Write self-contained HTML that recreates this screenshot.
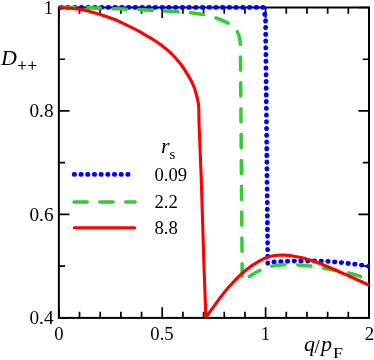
<!DOCTYPE html>
<html><head><meta charset="utf-8"><title>chart</title>
<style>
html,body{margin:0;padding:0;background:#fff;}
svg{display:block;will-change:transform;}
text{font-family:"Liberation Serif",serif;fill:#000;}
.t{font-size:18.7px;}
.i{font-style:italic;font-size:22px;}
.s{font-size:15px;}
.p{font-size:16.2px;stroke:#000;stroke-width:0.25px;}
</style></head><body>
<svg width="374" height="360" viewBox="0 0 374 360">
<rect width="374" height="360" fill="#fff"/>
<clipPath id="c"><rect x="58.85" y="0" width="311.15" height="318.10"/></clipPath>
<path d="M58.85 317.9v-10.6M58.85 7.5v10.6M79.53 317.9v-6.2M79.53 7.5v6.2M100.20 317.9v-6.2M100.20 7.5v6.2M120.88 317.9v-6.2M120.88 7.5v6.2M141.56 317.9v-6.2M141.56 7.5v6.2M162.23 317.9v-10.6M162.23 7.5v10.6M182.91 317.9v-6.2M182.91 7.5v6.2M203.59 317.9v-6.2M203.59 7.5v6.2M224.26 317.9v-6.2M224.26 7.5v6.2M244.94 317.9v-6.2M244.94 7.5v6.2M265.62 317.9v-10.6M265.62 7.5v10.6M286.29 317.9v-6.2M286.29 7.5v6.2M306.97 317.9v-6.2M306.97 7.5v6.2M327.65 317.9v-6.2M327.65 7.5v6.2M348.32 317.9v-6.2M348.32 7.5v6.2M369.00 317.9v-10.6M369.00 7.5v10.6M58.85 7.50h10.6M369.0 7.50h-10.6M58.85 59.23h6.2M369.0 59.23h-6.2M58.85 110.97h10.6M369.0 110.97h-10.6M58.85 162.70h6.2M369.0 162.70h-6.2M58.85 214.43h10.6M369.0 214.43h-10.6M58.85 266.17h6.2M369.0 266.17h-6.2M58.85 317.90h10.6M369.0 317.90h-10.6" stroke="#000" stroke-width="1.7" fill="none"/>
<rect x="58.85" y="7.5" width="310.15" height="310.40" fill="none" stroke="#000" stroke-width="2.0"/>
<g clip-path="url(#c)">
<g fill="#0000ff"><ellipse cx="263.10" cy="7.40" rx="2.55" ry="2.4"/><ellipse cx="256.38" cy="7.40" rx="2.55" ry="2.4"/><ellipse cx="249.65" cy="7.40" rx="2.55" ry="2.4"/><ellipse cx="242.93" cy="7.40" rx="2.55" ry="2.4"/><ellipse cx="236.20" cy="7.40" rx="2.55" ry="2.4"/><ellipse cx="229.48" cy="7.40" rx="2.55" ry="2.4"/><ellipse cx="222.75" cy="7.40" rx="2.55" ry="2.4"/><ellipse cx="216.03" cy="7.40" rx="2.55" ry="2.4"/><ellipse cx="209.30" cy="7.40" rx="2.55" ry="2.4"/><ellipse cx="202.58" cy="7.40" rx="2.55" ry="2.4"/><ellipse cx="195.85" cy="7.40" rx="2.55" ry="2.4"/><ellipse cx="189.13" cy="7.40" rx="2.55" ry="2.4"/><ellipse cx="182.40" cy="7.40" rx="2.55" ry="2.4"/><ellipse cx="175.68" cy="7.40" rx="2.55" ry="2.4"/><ellipse cx="168.95" cy="7.40" rx="2.55" ry="2.4"/><ellipse cx="162.23" cy="7.40" rx="2.55" ry="2.4"/><ellipse cx="155.50" cy="7.40" rx="2.55" ry="2.4"/><ellipse cx="148.78" cy="7.40" rx="2.55" ry="2.4"/><ellipse cx="142.05" cy="7.40" rx="2.55" ry="2.4"/><ellipse cx="135.33" cy="7.40" rx="2.55" ry="2.4"/><ellipse cx="128.60" cy="7.40" rx="2.55" ry="2.4"/><ellipse cx="121.88" cy="7.40" rx="2.55" ry="2.4"/><ellipse cx="115.15" cy="7.40" rx="2.55" ry="2.4"/><ellipse cx="108.43" cy="7.40" rx="2.55" ry="2.4"/><ellipse cx="101.70" cy="7.40" rx="2.55" ry="2.4"/><ellipse cx="94.98" cy="7.40" rx="2.55" ry="2.4"/><ellipse cx="88.25" cy="7.40" rx="2.55" ry="2.4"/><ellipse cx="81.53" cy="7.40" rx="2.55" ry="2.4"/><ellipse cx="74.80" cy="7.40" rx="2.55" ry="2.4"/><ellipse cx="68.08" cy="7.40" rx="2.55" ry="2.4"/><ellipse cx="61.35" cy="7.40" rx="2.55" ry="2.4"/><ellipse cx="264.80" cy="14.20" rx="2.4" ry="2.55"/><ellipse cx="265.60" cy="20.90" rx="2.4" ry="2.55"/><ellipse cx="265.66" cy="27.62" rx="2.4" ry="2.55"/><ellipse cx="265.72" cy="34.35" rx="2.4" ry="2.55"/><ellipse cx="265.78" cy="41.07" rx="2.4" ry="2.55"/><ellipse cx="265.84" cy="47.80" rx="2.4" ry="2.55"/><ellipse cx="265.91" cy="54.52" rx="2.4" ry="2.55"/><ellipse cx="265.97" cy="61.25" rx="2.4" ry="2.55"/><ellipse cx="266.03" cy="67.97" rx="2.4" ry="2.55"/><ellipse cx="266.09" cy="74.70" rx="2.4" ry="2.55"/><ellipse cx="266.15" cy="81.43" rx="2.4" ry="2.55"/><ellipse cx="266.21" cy="88.15" rx="2.4" ry="2.55"/><ellipse cx="266.27" cy="94.88" rx="2.4" ry="2.55"/><ellipse cx="266.33" cy="101.60" rx="2.4" ry="2.55"/><ellipse cx="266.39" cy="108.32" rx="2.4" ry="2.55"/><ellipse cx="266.46" cy="115.05" rx="2.4" ry="2.55"/><ellipse cx="266.52" cy="121.78" rx="2.4" ry="2.55"/><ellipse cx="266.58" cy="128.50" rx="2.4" ry="2.55"/><ellipse cx="266.64" cy="135.22" rx="2.4" ry="2.55"/><ellipse cx="266.70" cy="141.95" rx="2.4" ry="2.55"/><ellipse cx="266.76" cy="148.67" rx="2.4" ry="2.55"/><ellipse cx="266.82" cy="155.40" rx="2.4" ry="2.55"/><ellipse cx="266.88" cy="162.12" rx="2.4" ry="2.55"/><ellipse cx="266.94" cy="168.85" rx="2.4" ry="2.55"/><ellipse cx="267.01" cy="175.58" rx="2.4" ry="2.55"/><ellipse cx="267.07" cy="182.30" rx="2.4" ry="2.55"/><ellipse cx="267.13" cy="189.03" rx="2.4" ry="2.55"/><ellipse cx="267.19" cy="195.75" rx="2.4" ry="2.55"/><ellipse cx="267.25" cy="202.47" rx="2.4" ry="2.55"/><ellipse cx="267.31" cy="209.20" rx="2.4" ry="2.55"/><ellipse cx="267.37" cy="215.92" rx="2.4" ry="2.55"/><ellipse cx="267.43" cy="222.65" rx="2.4" ry="2.55"/><ellipse cx="267.49" cy="229.38" rx="2.4" ry="2.55"/><ellipse cx="267.56" cy="236.10" rx="2.4" ry="2.55"/><ellipse cx="267.62" cy="242.83" rx="2.4" ry="2.55"/><ellipse cx="267.68" cy="249.55" rx="2.4" ry="2.55"/><ellipse cx="267.74" cy="256.27" rx="2.4" ry="2.55"/><ellipse cx="267.80" cy="263.00" rx="2.4" ry="2.55"/><ellipse cx="274.10" cy="262.00" rx="2.55" ry="2.4"/><ellipse cx="280.84" cy="261.60" rx="2.55" ry="2.4"/><ellipse cx="287.57" cy="261.30" rx="2.55" ry="2.4"/><ellipse cx="294.31" cy="261.10" rx="2.55" ry="2.4"/><ellipse cx="301.04" cy="261.00" rx="2.55" ry="2.4"/><ellipse cx="307.78" cy="261.00" rx="2.55" ry="2.4"/><ellipse cx="314.51" cy="261.00" rx="2.55" ry="2.4"/><ellipse cx="321.25" cy="261.10" rx="2.55" ry="2.4"/><ellipse cx="327.98" cy="261.40" rx="2.55" ry="2.4"/><ellipse cx="334.72" cy="261.90" rx="2.55" ry="2.4"/><ellipse cx="341.45" cy="262.60" rx="2.55" ry="2.4"/><ellipse cx="348.19" cy="263.40" rx="2.55" ry="2.4"/><ellipse cx="354.92" cy="264.20" rx="2.55" ry="2.4"/><ellipse cx="361.66" cy="265.20" rx="2.55" ry="2.4"/><ellipse cx="368.39" cy="266.30" rx="2.55" ry="2.4"/></g>
<path d="M61.40 7.20C66.17 7.30 81.43 7.55 90.00 7.80C98.57 8.05 106.68 8.47 112.80 8.70C118.92 8.93 122.38 9.05 126.70 9.20C131.02 9.35 134.43 9.42 138.70 9.60C142.97 9.78 148.10 10.08 152.30 10.30C156.50 10.52 159.58 10.65 163.90 10.90C168.22 11.15 174.02 11.53 178.20 11.80C182.38 12.07 184.70 12.03 189.00 12.50C193.30 12.97 199.50 13.68 204.00 14.60C208.50 15.52 212.12 16.63 216.00 18.00C219.88 19.37 224.47 21.38 227.30 22.80C230.13 24.22 231.32 24.97 233.00 26.50C234.68 28.03 236.30 30.08 237.40 32.00C238.50 33.92 239.12 36.00 239.60 38.00C240.08 40.00 240.15 41.17 240.30 44.00C240.45 46.83 240.47 53.17 240.50 55.00L242.2 276.2" fill="none" stroke="#33cc33" stroke-width="3.5" stroke-linecap="round" stroke-linejoin="round" stroke-dasharray="13.2 12.65" stroke-dashoffset="-0.15"/>
<path d="M249.20 276.60C250.75 275.67 254.87 272.70 258.50 271.00C262.13 269.30 266.83 267.45 271.00 266.40C275.17 265.35 279.08 264.95 283.50 264.70C287.92 264.45 293.08 264.68 297.50 264.90C301.92 265.12 305.83 265.52 310.00 266.00C314.17 266.48 318.67 267.13 322.50 267.80C326.33 268.47 328.72 269.17 333.00 270.00C337.28 270.83 343.62 271.73 348.20 272.80C352.78 273.87 358.45 275.80 360.50 276.40" fill="none" stroke="#33cc33" stroke-width="3.5" stroke-linecap="round" stroke-linejoin="round" stroke-dasharray="13.2 12.65" stroke-dashoffset="0.65"/>
<path d="M59.50 7.80C60.92 7.84 65.08 7.86 68.00 8.05C70.92 8.24 73.83 8.49 77.00 8.95C80.17 9.41 83.83 10.09 87.00 10.80C90.17 11.51 93.17 12.38 96.00 13.20C98.83 14.02 101.48 14.87 104.00 15.70C106.52 16.53 108.43 17.18 111.10 18.20C113.77 19.22 116.20 20.05 120.00 21.80C123.80 23.55 129.27 26.27 133.90 28.70C138.53 31.13 144.28 34.40 147.80 36.40C151.32 38.40 152.65 39.17 155.00 40.70C157.35 42.23 159.58 43.85 161.90 45.60C164.22 47.35 166.58 49.08 168.90 51.20C171.22 53.32 173.48 55.67 175.80 58.30C178.12 60.93 180.48 63.70 182.80 67.00C185.12 70.30 187.97 75.10 189.70 78.10C191.43 81.10 192.22 82.73 193.20 85.00C194.18 87.27 194.83 89.10 195.60 91.70C196.37 94.30 197.28 98.28 197.80 100.60C198.32 102.92 198.55 104.77 198.70 105.60L199.1 125L201.3 180L204.1 270L205.9 317.8L205.90 317.80C207.00 316.20 210.23 311.40 212.50 308.20C214.77 305.00 216.72 302.20 219.50 298.60C222.28 295.00 225.97 290.32 229.20 286.60C232.43 282.88 235.67 279.42 238.90 276.30C242.13 273.18 245.35 270.35 248.60 267.90C251.85 265.45 255.30 263.37 258.40 261.60C261.50 259.83 264.77 258.27 267.20 257.30C269.63 256.33 271.15 256.15 273.00 255.80C274.85 255.45 276.47 255.31 278.30 255.20C280.13 255.09 281.87 255.07 284.00 255.15C286.13 255.23 288.07 255.26 291.10 255.70C294.13 256.14 298.50 256.90 302.20 257.80C305.90 258.70 310.33 260.15 313.30 261.10C316.27 262.05 316.48 262.10 320.00 263.50C323.52 264.90 329.58 267.42 334.40 269.50C339.22 271.58 344.08 273.83 348.90 276.00C353.72 278.17 359.95 280.98 363.30 282.50C366.65 284.02 368.05 284.67 369.00 285.10" fill="none" stroke="#ff0000" stroke-width="3.1" stroke-linejoin="round"/>
</g>
<!-- legend -->
<path d="M74.2 174.4H131.5" fill="none" stroke="#0000ff" stroke-width="4.8" stroke-linecap="round" stroke-dasharray="0.4 6.29"/>
<path d="M74.0 202H135.1" fill="none" stroke="#33cc33" stroke-width="3.5" stroke-linecap="round" stroke-dasharray="13.2 12.65"/>
<path d="M74.2 227.8H134.6" fill="none" stroke="#ff0000" stroke-width="3.0" stroke-linecap="round"/>
<text class="t" transform="translate(154.5 181) scale(1.0 1)" text-anchor="start">0.09</text>
<text class="t" transform="translate(154.5 207.5) scale(1.0 1)" text-anchor="start">2.2</text>
<text class="t" transform="translate(154.5 233.7) scale(1.0 1)" text-anchor="start">8.8</text>
<text class="i" x="161" y="153">r</text><text class="s" x="169.5" y="158.5">s</text>
<!-- tick labels -->
<text class="t" transform="translate(53.1 14) scale(1.0 1)" text-anchor="end">1</text>
<text class="t" transform="translate(53.6 117.3) scale(1.035 1)" text-anchor="end">0.8</text>
<text class="t" transform="translate(53.6 220.8) scale(1.035 1)" text-anchor="end">0.6</text>
<text class="t" transform="translate(53.6 324.3) scale(1.035 1)" text-anchor="end">0.4</text>
<text class="t" transform="translate(58.8 339.6) scale(1.0 1)" text-anchor="middle">0</text>
<text class="t" transform="translate(162 339.6) scale(1.0 1)" text-anchor="middle">0.5</text>
<text class="t" transform="translate(265.3 339.6) scale(1.0 1)" text-anchor="middle">1</text>
<text class="t" transform="translate(369.4 339.6) scale(1.0 1)" text-anchor="middle">2</text>
<!-- axis labels -->
<text class="i" x="1" y="64.6">D</text><text class="p" x="17.6" y="70.6" letter-spacing="1.0">++</text>
<text class="i" x="304" y="351">q</text><text x="314.4" y="352.6" font-size="18.8">/</text><text class="i" x="321.1" y="351">p</text><text class="s" transform="translate(333.0 357.6) scale(1.2 1)">F</text>
</svg>
</body></html>
